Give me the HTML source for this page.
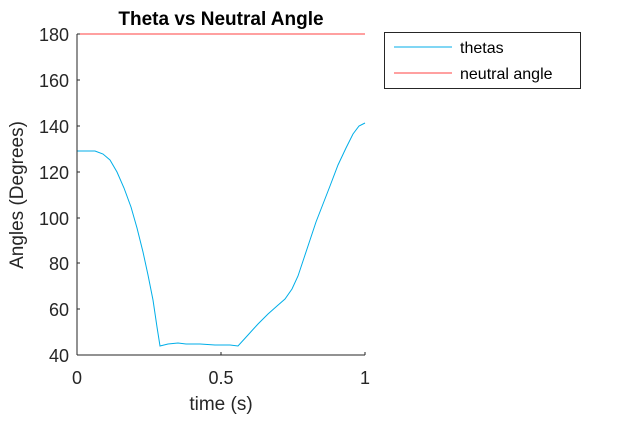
<!DOCTYPE html>
<html><head><style>body{margin:0;background:#fff}</style></head><body>
<svg width="625" height="417" xmlns="http://www.w3.org/2000/svg" font-family="Liberation Sans, sans-serif">
<text x="221" y="25" text-anchor="middle" font-size="19" font-weight="bold">Theta vs Neutral Angle</text>
<line x1="77" y1="34" x2="365" y2="34" stroke="#ff4040" stroke-width="1"/>
<polyline fill="none" stroke="#00aee8" stroke-width="1" points="77,151 95,151 103,154 110,160 117,172 124,188 131,207 137,228 143,252 148,275 153,300 157,327 160,346 168,344 178,343 186,344 200,344 215,345 230,345 238,346 248,335 258,324 268,314 277,306 285,299 292,289 298,276 304,258 310,240 316,222 323,204 330,186 338,165 346,148 353,134 359,126 365,123"/>
<g stroke="#262626" stroke-width="1" fill="none">
<line x1="77" y1="34" x2="77" y2="355"/>
<line x1="77" y1="355" x2="365" y2="355"/>
<line x1="77" y1="34" x2="80" y2="34"/><line x1="77" y1="80" x2="80" y2="80"/><line x1="77" y1="126" x2="80" y2="126"/><line x1="77" y1="172" x2="80" y2="172"/><line x1="77" y1="218" x2="80" y2="218"/><line x1="77" y1="263" x2="80" y2="263"/><line x1="77" y1="309" x2="80" y2="309"/>
<line x1="221" y1="355" x2="221" y2="352"/><line x1="365" y1="355" x2="365" y2="352"/>
</g>
<g font-size="18" fill="#262626" text-anchor="end">
<text x="69" y="41">180</text><text x="69" y="87">160</text><text x="69" y="133">140</text><text x="69" y="179">120</text><text x="69" y="225">100</text><text x="69" y="270">80</text><text x="69" y="316">60</text><text x="69" y="362">40</text>
</g>
<g font-size="18" fill="#262626" text-anchor="middle">
<text x="77" y="384">0</text><text x="221" y="384">0.5</text><text x="365" y="384">1</text>
<text font-size="19" x="221" y="410">time (s)</text>
<text font-size="19" transform="translate(23,195) rotate(-90)">Angles (Degrees)</text>
</g>
<rect x="384.5" y="32.5" width="196" height="56" fill="#fff" stroke="#262626"/>
<line x1="394" y1="47" x2="452" y2="47" stroke="#00aee8"/>
<line x1="394" y1="73" x2="452" y2="73" stroke="#ff4040"/>
<text x="460" y="53" font-size="16">thetas</text>
<text x="460" y="79" font-size="16">neutral angle</text>
</svg>
</body></html>
